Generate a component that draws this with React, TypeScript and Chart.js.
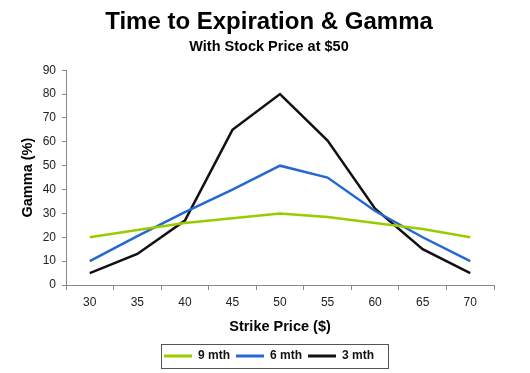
import React, { useEffect, useRef } from 'react';
import { Chart, registerables } from 'chart.js';

Chart.register(...registerables);

const TITLE = 'Time to Expiration & Gamma';
const SUBTITLE = 'With Stock Price at $50';
const X_TITLE = 'Strike Price ($)';
const Y_TITLE = 'Gamma (%)';

const strikePrices = ['30', '35', '40', '45', '50', '55', '60', '65', '70'];
const nineMonth = [20, 23, 26, 28, 30, 28.5, 26, 23.5, 20];
const sixMonth = [10, 20.5, 30.5, 40, 50, 45, 31, 20, 10];
const threeMonth = [5, 13, 27, 65, 80, 60.5, 32, 15, 5];
const seriesNames = ['9 mth', '6 mth', '3 mth'];
const seriesColors = ['#99CC00', '#2468D4', '#111111'];

const FONT = "Arial, 'Liberation Sans', Helvetica, sans-serif";

const boxesPlugin = {
  id: 'boxesPlugin',
  afterLayout(chart: any) {
    const dx = 15;
    for (const b of chart.boxes) {
      const isTitle = b.options && !b.axis && (b.options.text === TITLE || b.options.text === SUBTITLE);
      if (b === chart.legend || isTitle) {
        b.left += dx;
        b.right += dx;
      }
    }
  },
  afterDraw(chart: any) {
    const lg = chart.legend;
    if (!lg || !lg.lineWidths) return;
    const pad = lg.options.labels.padding;
    const lw = lg.lineWidths[0];
    const x0 = (lg.left + pad + lg.right - lw) / 2;
    const ctx = chart.ctx;
    ctx.save();
    ctx.strokeStyle = '#555';
    ctx.lineWidth = 1;
    ctx.strokeRect(Math.round(x0 - 3) + 0.5, Math.round(lg.top) + 0.5, Math.round(lw - pad + 17), 24);
    ctx.restore();
  },
};

export default function App() {
  const canvasRef = useRef<HTMLCanvasElement | null>(null);

  useEffect(() => {
    if (!canvasRef.current) return;
    const data = [nineMonth, sixMonth, threeMonth];
    const chart = new Chart(canvasRef.current, {
      type: 'line',
      data: {
        labels: strikePrices,
        datasets: data.map((d, i) => ({
          label: seriesNames[i],
          data: d,
          borderColor: seriesColors[i],
          backgroundColor: seriesColors[i],
          borderWidth: 2.5,
          pointRadius: 0,
          tension: 0,
          fill: false,
        })),
      },
      options: {
        animation: false,
        responsive: false,
        maintainAspectRatio: false,
        layout: { padding: { left: 14, right: 36, top: 0, bottom: 1 } },
        plugins: {
          title: {
            display: true,
            text: TITLE,
            color: '#000',
            font: { family: FONT, size: 24, weight: 'bold' },
            padding: { top: 7.5, bottom: 0 },
          },
          subtitle: {
            display: true,
            text: SUBTITLE,
            color: '#000',
            font: { family: FONT, size: 14.5, weight: 'bold' },
            padding: { top: 2, bottom: 14.5 },
          },
          legend: {
            display: true,
            position: 'bottom',
            labels: {
              boxWidth: 28,
              boxHeight: 3,
              padding: 6,
              color: '#111',
              font: { family: FONT, size: 12, weight: 'bold' },
              generateLabels: (c: any) =>
                (Chart.defaults.plugins.legend.labels as any).generateLabels(c).map((l: any) => ({ ...l, lineWidth: 0 })),
            },
          },
          tooltip: { enabled: false },
        },
        scales: {
          x: {
            type: 'category',
            offset: true,
            afterFit: (s: any) => { s.height = 59; },
            grid: { display: true, offset: true, drawOnChartArea: false, drawTicks: true, tickLength: 5, color: '#888' },
            border: { display: true, color: '#888', width: 1 },
            ticks: { color: '#222', padding: 5, font: { family: FONT, size: 12 } },
            title: {
              display: true,
              text: X_TITLE,
              color: '#000',
              font: { family: FONT, size: 14.5, weight: 'bold' },
              padding: { top: 0, bottom: 8 },
            },
          },
          y: {
            min: 0,
            max: 90,
            afterFit: (s: any) => { s.width = 52; },
            grid: { display: true, drawOnChartArea: false, drawTicks: true, tickLength: 4, color: '#888' },
            border: { display: true, color: '#888', width: 1 },
            ticks: { stepSize: 10, color: '#222', padding: 6, font: { family: FONT, size: 12 } },
            title: {
              display: true,
              text: Y_TITLE,
              color: '#000',
              font: { family: FONT, size: 14.5, weight: 'bold' },
              padding: { top: 5, bottom: 0 },
            },
          },
        },
      },
      plugins: [boxesPlugin],
    } as any);
    return () => chart.destroy();
  }, []);

  return (
    <div style={{ position: 'fixed', left: 0, top: 0, width: 530, height: 373, background: '#fff' }}>
      <canvas ref={canvasRef} width={530} height={373} style={{ display: 'block', width: 530, height: 373 }} />
    </div>
  );
}
